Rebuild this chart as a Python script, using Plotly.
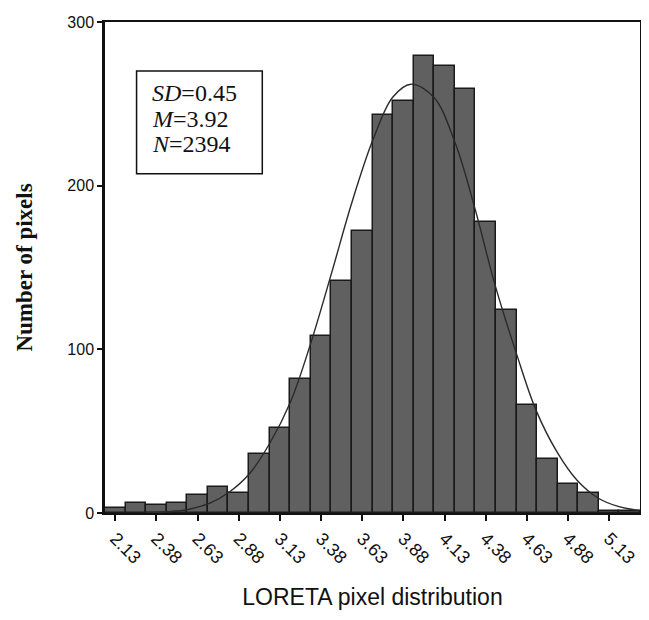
import plotly.graph_objects as go

# Histogram bins (centres, width 0.125) and counts
bin_centers = [2.125, 2.25, 2.375, 2.5, 2.625, 2.75, 2.875, 3.0, 3.125, 3.25, 3.375, 3.5,
               3.625, 3.75, 3.875, 4.0, 4.125, 4.25, 4.375, 4.5, 4.625, 4.75, 4.875, 5.0,
               5.125, 5.25]
counts = [3, 6, 5, 6, 11, 16, 12, 36, 52, 82, 108, 142,
          172, 243, 252, 279, 273, 259, 178, 124, 66, 33, 18, 12,
          1, 1]
bin_width = 0.125

# Fitted curve, points
curve_x = [2.31, 2.44, 2.56, 2.70, 2.82, 2.94, 3.06, 3.19, 3.31, 3.44, 3.56, 3.69, 3.81,
           3.92, 4.06, 4.19, 4.31, 4.43, 4.56, 4.68, 4.81, 4.93, 5.06, 5.18, 5.31]
curve_y = [0.3, 0.8, 2, 6, 13, 24, 42, 68, 103, 147, 189, 228, 254,
           262, 254, 226, 186, 140, 98, 63, 37, 20, 9, 4, 1.5]

tick_vals = [2.125, 2.375, 2.625, 2.875, 3.125, 3.375, 3.625, 3.875, 4.125, 4.375,
             4.625, 4.875, 5.125]
tick_text = ["2.13", "2.38", "2.63", "2.88", "3.13", "3.38", "3.63", "3.88", "4.13",
             "4.38", "4.63", "4.88", "5.13"]

stats_lines = ["<i>SD</i>=0.45", "<i>M</i>=3.92", "<i>N</i>=2394"]

SANS = "Liberation Sans, Arial, sans-serif"
SERIF = "Liberation Serif, Times New Roman, serif"

fig = go.Figure()
fig.add_trace(go.Bar(
    x=bin_centers, y=counts, width=bin_width,
    marker=dict(color="#606060", line=dict(color="#1a1a1a", width=1.5)),
    showlegend=False, hoverinfo="x+y"))
fig.add_trace(go.Scatter(
    x=curve_x, y=curve_y, mode="lines",
    line=dict(color="#2a2a2a", width=1.4, shape="spline"),
    showlegend=False))

# page body has an 8px margin, so the figure is sized to fit inside the window
fig.update_layout(
    width=641, height=604,
    margin=dict(l=97, r=6, t=13, b=95),
    plot_bgcolor="white", paper_bgcolor="white",
    bargap=0,
    font=dict(family=SANS, color="#111"),
)
fig.update_xaxes(
    range=[2.0625, 5.3125],
    tickmode="array", tickvals=tick_vals, ticktext=tick_text,
    tickangle=45, tickfont=dict(size=18, family=SANS),
    ticks="outside", ticklen=6, tickwidth=2, tickcolor="#111",
    showline=True, linecolor="#111", linewidth=2, mirror=True,
    showgrid=False, zeroline=False,
    title=dict(text="LORETA pixel distribution",
               font=dict(size=23, family=SANS),
               standoff=22),
)
fig.update_yaxes(
    range=[0, 300],
    tickmode="array", tickvals=[0, 100, 200, 300],
    tickfont=dict(size=16, family=SANS),
    ticks="outside", ticklen=5, tickwidth=2, tickcolor="#111",
    showline=True, linecolor="#111", linewidth=2.5, mirror=True,
    showgrid=False, zeroline=False,
    title=dict(text="<b>Number of pixels</b>",
               font=dict(size=23, family=SERIF),
               standoff=29),
)

fig.add_shape(type="rect", xref="paper", yref="paper",
              x0=0.059, x1=0.294, y0=0.691, y1=0.900,
              line=dict(color="#111", width=1.5), fillcolor="white", layer="above")
for line_text, ypos in zip(stats_lines, [0.855, 0.803, 0.751]):
    fig.add_annotation(xref="paper", yref="paper", x=0.085, y=ypos,
                       xanchor="left", yanchor="middle", align="left",
                       text=line_text, showarrow=False,
                       font=dict(size=24, family=SERIF, color="#111"))

fig.write_html("out.html")
